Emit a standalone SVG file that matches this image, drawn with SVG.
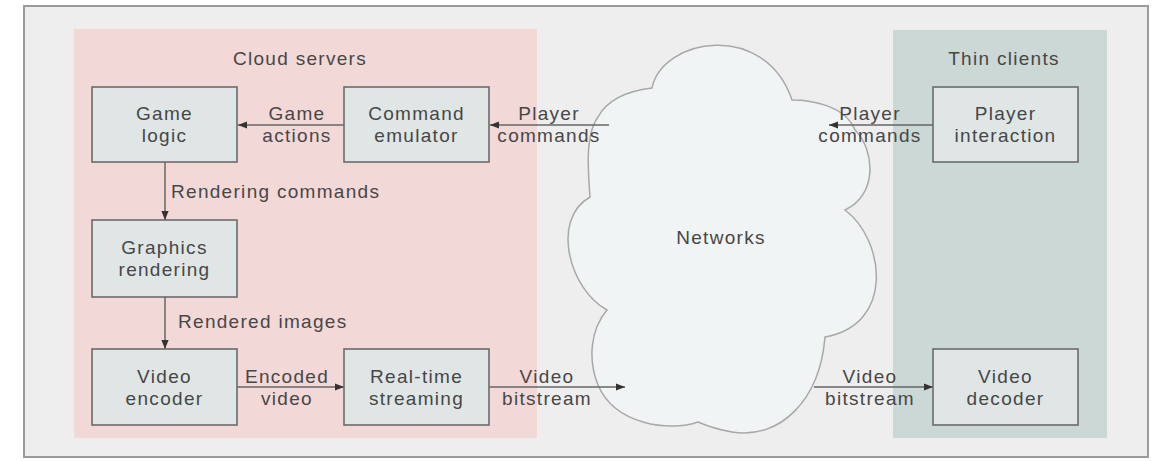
<svg xmlns="http://www.w3.org/2000/svg" width="1158" height="461" viewBox="0 0 1158 461">
<defs>
<style>
text{font-family:"Liberation Sans",Arial,sans-serif;font-size:19px;letter-spacing:1.3px;fill:#474747;}
.c{text-anchor:middle;}
.box{fill:#dfe6e5;stroke:#6b6b6b;stroke-width:1.6;}
.ln{stroke:#666;stroke-width:1.5;fill:none;}
</style>
<marker id="ah" viewBox="0 0 10 10" refX="10" refY="5" markerWidth="9" markerHeight="9" markerUnits="userSpaceOnUse" orient="auto">
<path d="M0,1 L10,5 L0,9 Z" fill="#333"/>
</marker>
</defs>
<rect x="0" y="0" width="1158" height="461" fill="#ffffff"/>
<rect id="frame" x="24" y="6" width="1124" height="451" fill="#eeeeee" stroke="#9a9a9a" stroke-width="2"/>
<g id="cloud-servers">
<rect x="74" y="29" width="463" height="409" fill="#f3d8d8"/>
<text class="c" x="300" y="65">Cloud servers</text>
</g>
<g id="thin-clients">
<rect x="893" y="30" width="214" height="408" fill="#cbd8d6"/>
<text class="c" x="1004" y="65">Thin clients</text>
</g>
<g id="networks">
<path d="M652,88 C662,38 765,20 792,100 C810,100 845,105 855,130 C875,150 878,195 845,210 C885,240 895,325 825,337 C820,400 780,440 732,432 C720,430 705,425 698,422 C670,432 615,425 598,385 C588,360 590,330 607,310 C570,290 550,220 590,197 C588,170 585,135 598,117 C610,95 635,90 652,88 Z" fill="#f1f4f4" stroke="#a8a8a8" stroke-width="1.5"/>
<text class="c" x="721" y="244">Networks</text>
</g>
<g id="connectors">
<line class="ln" x1="344" y1="125" x2="238" y2="125" marker-end="url(#ah)"/>
<line class="ln" x1="609" y1="125" x2="490" y2="125" marker-end="url(#ah)"/>
<line class="ln" x1="933" y1="125" x2="829" y2="125" marker-end="url(#ah)"/>
<line class="ln" x1="165" y1="162" x2="165" y2="220" marker-end="url(#ah)"/>
<line class="ln" x1="165" y1="297" x2="165" y2="349" marker-end="url(#ah)"/>
<line class="ln" x1="237" y1="387" x2="344" y2="387" marker-end="url(#ah)"/>
<line class="ln" x1="489" y1="387" x2="625" y2="387" marker-end="url(#ah)"/>
<line class="ln" x1="814" y1="387" x2="933" y2="387" marker-end="url(#ah)"/>
<text class="c"><tspan x="297" y="120">Game</tspan><tspan x="297" y="142">actions</tspan></text>
<text class="c"><tspan x="549" y="120">Player</tspan><tspan x="549" y="142">commands</tspan></text>
<text class="c"><tspan x="870" y="120">Player</tspan><tspan x="870" y="142">commands</tspan></text>
<text x="171" y="198">Rendering commands</text>
<text x="178" y="328">Rendered images</text>
<text class="c"><tspan x="287" y="383">Encoded</tspan><tspan x="287" y="405">video</tspan></text>
<text class="c"><tspan x="547" y="383">Video</tspan><tspan x="547" y="405">bitstream</tspan></text>
<text class="c"><tspan x="870" y="383">Video</tspan><tspan x="870" y="405">bitstream</tspan></text>
</g>
<g id="game-logic">
<rect class="box" x="92" y="87" width="145" height="75"/>
<text class="c"><tspan x="164.5" y="120">Game</tspan><tspan x="164.5" y="142">logic</tspan></text>
</g>
<g id="command-emulator">
<rect class="box" x="344" y="87" width="145" height="75"/>
<text class="c"><tspan x="416.5" y="120">Command</tspan><tspan x="416.5" y="142">emulator</tspan></text>
</g>
<g id="graphics-rendering">
<rect class="box" x="92" y="220" width="145" height="77"/>
<text class="c"><tspan x="164.5" y="254">Graphics</tspan><tspan x="164.5" y="276">rendering</tspan></text>
</g>
<g id="video-encoder">
<rect class="box" x="92" y="349" width="145" height="76"/>
<text class="c"><tspan x="164.5" y="383">Video</tspan><tspan x="164.5" y="405">encoder</tspan></text>
</g>
<g id="real-time-streaming">
<rect class="box" x="344" y="349" width="145" height="76"/>
<text class="c"><tspan x="416.5" y="383">Real-time</tspan><tspan x="416.5" y="405">streaming</tspan></text>
</g>
<g id="player-interaction">
<rect class="box" x="933" y="87" width="145" height="75"/>
<text class="c"><tspan x="1005.5" y="120">Player</tspan><tspan x="1005.5" y="142">interaction</tspan></text>
</g>
<g id="video-decoder">
<rect class="box" x="933" y="349" width="145" height="76"/>
<text class="c"><tspan x="1005.5" y="383">Video</tspan><tspan x="1005.5" y="405">decoder</tspan></text>
</g>
</svg>
